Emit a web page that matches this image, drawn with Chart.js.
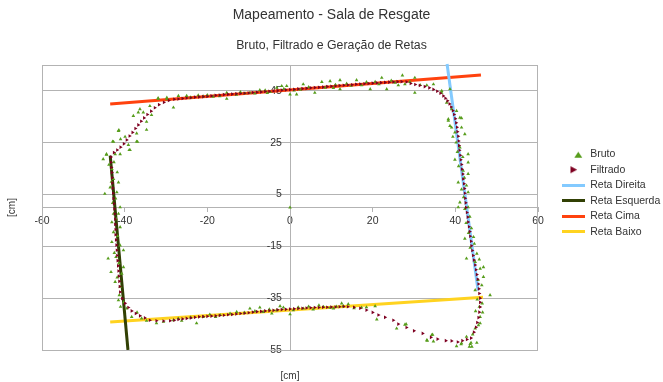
<!DOCTYPE html>
<html><head><meta charset="utf-8">
<script src="https://cdn.jsdelivr.net/npm/chart.js@4/dist/chart.umd.min.js"></script>
<style>html,body{margin:0;padding:0;background:#fff}canvas{display:block}</style>
</head><body>
<canvas id="c" width="663" height="382"></canvas>
<script>
const chartTitle = 'Mapeamento - Sala de Resgate';
const chartSubtitle = 'Bruto, Filtrado e Geração de Retas';
const axisTitleX = '[cm]';
const axisTitleY = '[cm]';
const seriesNames = ['Bruto', 'Filtrado', 'Reta Direita', 'Reta Esquerda', 'Reta Cima', 'Reta Baixo'];
const xTicks = [-60, -40, -20, 0, 20, 40, 60];
const yTicks = [-55, -35, -15, 5, 25, 45];

const bruto = [
[0,0],
[-29.8,41.8],[-28.2,38.6],[-27,43.1],[-25,43.1],[-24,42.5],[-22.2,43.3],[-21,42.9],[-20,43.4],[-18.6,42.8],[-17,43.0],[-15.3,42],[-15.3,44.3],[-13,43.6],[-12,44.6],[-10.9,44.1],[-9.7,44.3],[-8.5,44.0],[-7.3,45.3],[-6,45.2],[-5.5,44.2],[-4.8,44.6],[-3.2,46.3],[-2,46.9],[-1.5,45.8],[-0.8,46.9],[0,43.7],[1,45.2],[1.6,43.7],[2.5,45.5],[3.2,47.6],[4.5,46.5],[6,44.3],[7.7,48.5],[8.5,46.3],[9.7,48.8],[10.5,46.2],[11,47.4],[12.1,49.2],[12.1,45.7],[13.7,47.8],[14.8,47.0],[16.1,49.2],[17.3,47.2],[18.5,48.4],[19.4,45.7],[20.6,48.5],[21.5,47.6],[22.2,50.1],[23.4,45.7],[24.5,49.0],[25.4,48.2],[26.2,47.2],[27.2,51],[27.8,47.6],[29,48.5],[30.2,50.1],[30.2,44.3],[31.5,47.3],[33.1,47.2],[34.7,47.6],
[36.7,45],[36.7,44.3],[38.7,45.7],[37.9,40.5],[39.1,38],[40.3,37.3],[41.1,34.7],[41.5,34.5],[38.3,34.1],[38.3,33.5],[38.7,31.5],[39.1,30.9],[41.5,30.9],[42.3,28.3],[39.9,29],[39.4,27.3],[40.2,25.1],[41.1,23.2],[40.5,21.5],[43.1,20.6],[41.8,19.5],[39.9,18.5],[43.1,17.4],[40.8,16],[41.9,14.2],[43.1,13],[42.2,11.5],[40.7,9.7],[42.7,8.5],[41.5,7],[43.1,5.9],[42,4],[41.1,2],[42.3,-0.5],[43.1,0.1],[40.7,0.1],
[43.5,-3.5],[42.6,-6],[43.9,-8],[43.2,-9.8],[44.4,-11.4],[42.3,-12],[44.6,-14],[43.6,-15.5],[45.2,-17.8],[42.7,-19.7],[45.8,-20],[44.8,-21],[46.8,-23],[46,-23.6],[46.8,-26.8],[45.5,-28],[46.4,-30],[44.8,-31.9],[48.4,-33.8],[45.3,-35.5],[46.5,-37],[45.8,-38.3],[44.9,-40],[46.6,-40.5],[46,-42.2],[46,-44.7],[45.6,-45.4],[44.8,-46.7],[44.2,-49],[42.7,-49.9],[45.2,-52.2],[43.8,-52.2],[43.6,-52.7],[43.4,-53.7],[44,-53.7],[41.5,-52.4],[41.4,-52.8],[40.3,-53.5],
[34.5,-49.1],[34.3,-49.2],[33.2,-51.4],[33.1,-51.2],[34.7,-51.7],[28.1,-45],[27.8,-45.2],[25.8,-46.7],[21,-43.2],[20.6,-38.1],[18.5,-38.5],[17.3,-38.6],[15.5,-38.9],[14.1,-37.3],[12.9,-38.1],[12.5,-37],[11.2,-38.2],[10.5,-39],[9.7,-38.7],[8.1,-38.3],[7,-37.8],[5.6,-39.3],[4.5,-38.2],[3.2,-39],[2,-38.5],[0.8,-39.6],[0,-41.2],[-1.6,-38.6],
[-2.4,-38.1],[-3.2,-39.6],[-4.4,-40.9],[-5,-39.3],[-6.5,-40.3],[-7.3,-38.6],[-8.5,-40.0],[-9.7,-39],[-11,-40.6],[-12.9,-40.3],[-14.5,-40.9],[-16.9,-41.5],[-18,-42.2],[-19.4,-41.3],[-21,-42.2],[-22.6,-44.7],[-24,-42.4],[-26.2,-43.7],[-27,-42.9],[-28.2,-43.5],[-30.6,-44.1],[-32.3,-44.7],[-34.7,-43.7],[-35.9,-42.8],[-37,-40.5],[-38.3,-42.2],[-39.5,-39],[-41,-38.3],[-40.2,-36.5],[-41.5,-35.8],[-41.3,-33.8],
[-41.1,-30.6],[-42.3,-28.7],[-41.8,-27],[-40.7,-25.5],[-43.3,-24.9],[-40.3,-23],[-41.4,-21.5],[-44,-19.7],[-42.1,-19.1],[-42.5,-17.5],[-40.3,-16.5],[-41.1,-14.6],[-43.1,-13.3],[-41.7,-11],[-42.7,-9.5],[-41.1,-7.6],[-43.1,-5.7],[-42.0,-4.5],[-41.5,-2.4],[-42.7,-2.4],[-41.1,0.1],[-42.9,1.8],[-42.2,3.5],[-44.8,5.3],[-41.9,5.9],[-43.5,7.8],[-41.5,9.7],[-43.2,10],[-42.7,11],[-41.8,13.6],[-43.1,14.9],[-43.8,16.5],[-42.6,17.5],
[-45.2,18.7],[-44.4,20.6],[-44.4,20.4],[-42.3,20.6],[-41.1,20.6],[-38.9,22.2],[-38.7,22.2],[-39.1,24.2],[-36.9,25.4],[-37.1,25.5],[-42.7,25.4],[-42.9,25.5],[-41,26.4],[-39.9,27.3],[-37.1,28.6],[-41.5,29.6],[-41.4,29.9],[-34.7,30],[-34.7,33.1],[-33.5,35.7],[-37.9,35.4],[-36.7,36.7],[-35.5,36.7],[-36.3,38],[-33.9,39.2],[-31.9,42],[-31.9,42.2],[-29.8,42.4]
];

const filtrado = [
[-28,41.8],[-27,41.9],[-26,42.1],[-25,42.3],[-24,42.4],[-23,42.6],[-22,42.7],[-21,42.8],[-20,42.9],[-19,43.1],[-18,43.3],[-17,43.4],[-16,43.6],[-15,43.7],[-14,43.8],[-13,43.9],[-12,44.0],[-11,44.1],[-10,44.2],[-9,44.4],[-8,44.5],[-7,44.6],[-6,44.8],[-5,44.9],[-4,45.0],[-3,45.1],[-2,45.3],[-1,45.4],[0,45.5],[1,45.6],[2,45.8],[3,45.9],[4,46.0],[5,46.2],[6,46.3],[7,46.4],[8,46.5],[9,46.7],[10,46.8],[11,46.9],[12,47.1],[13,47.2],[14,47.3],[15,47.4],[16,47.6],[17,47.7],[18,47.8],[19,47.9],[20,48.0],[21,48.1],[22,48.2],[23,48.3],[24,48.4],[25,48.5],[26,48.6],[27,48.6],
[28.2,48.5],[29.2,47.9],[30.3,47.5],[31.4,47.1],[32.6,46.7],[33.7,46.2],[34.7,45.6],[35.6,44.9],[36.4,44.1],[37.1,43.1],[37.6,42.2],[38.1,41.2],[38.6,40.0],[39.0,38.8],[39.4,37.4],[39.7,35.9],[40.0,34.3],[40.2,32.7],[40.4,31.0],[40.5,29.3],[40.7,27.5],[40.8,25.7],[40.9,23.9],[41.0,22.1],[41.2,20.2],[41.3,18.4],[41.5,16.6],[41.6,14.8],[41.8,12.9],[41.9,11.0],[42.1,9.2],[42.2,7.3],[42.3,5.5],[42.4,3.6],[42.5,1.8],[42.6,0],[42.8,-1.9],[43.0,-3.7],[43.1,-5.6],[43.3,-7.4],[43.5,-9.3],[43.6,-11.1],[43.8,-13.0],[43.9,-14.8],[44.1,-16.6],[44.3,-18.5],[44.5,-20.3],[44.8,-22.2],[45.0,-24.0],[45.2,-25.9],[45.4,-27.7],[45.6,-29.5],[45.7,-31.4],[45.8,-33.2],[46.0,-35.0],[46.0,-36.6],[46.0,-38.4],[45.8,-40.4],[45.6,-42.5],[45.3,-44.4],[45.0,-46.2],[44.5,-48.1],[43.8,-50.4],[42.8,-50.9],[41.7,-51.4],[40.6,-51.9],[39.1,-51.5],[37.7,-51.4],[35.7,-50.8],[34.1,-50.1],[32.1,-48.6],[30.0,-47.6],[28.2,-46.3],[26.2,-45.0],[25.0,-43.5],[23.0,-42.4],[21.4,-41.5],[20.0,-40.5],[18.5,-39.6],[17.0,-38.9],[15.5,-38.5],[14.0,-38.3],
[13,-38.2],[12,-38.3],[11,-38.4],[10,-38.4],[9,-38.5],[8,-38.5],[7,-38.6],[6,-38.6],[5,-38.7],[4,-38.8],[3,-38.9],[2,-39.0],[1,-39.1],[0,-39.2],[-1,-39.3],[-2,-39.4],[-3,-39.5],[-4,-39.7],[-5,-39.8],[-6,-39.9],[-7,-40.1],[-8,-40.2],[-9,-40.4],[-10,-40.6],[-11,-40.8],[-12,-40.9],[-13,-41.1],[-14,-41.3],[-15,-41.4],[-16,-41.6],[-17,-41.7],[-18,-41.8],[-19,-41.9],[-20,-42.0],[-21,-42.1],[-22,-42.2],[-23,-42.4],[-24,-42.6],[-25,-42.8],[-26,-43.0],[-27,-43.2],[-28,-43.5],[-29,-43.7],[-30.6,-43.8],[-32.3,-43.7],[-33.9,-43.5],[-35.1,-42.6],[-36.3,-41.8],[-37.3,-40.9],[-38.3,-39.9],[-39.1,-38.6],[-39.9,-37.0],[-40.6,-35.1],[-41.1,-32.6],
[-41.2,-30.5],[-41.3,-28.5],[-41.4,-26.5],[-41.5,-24.5],[-41.6,-22.5],[-41.7,-20.5],[-41.8,-18.5],[-41.9,-16.5],[-42.0,-14.5],[-42.1,-12.5],[-42.2,-10.5],[-42.2,-8.5],[-42.3,-6.5],[-42.3,-4.5],[-42.4,-2.5],[-42.5,-0.5],[-42.6,1.5],[-42.7,3.5],[-42.8,5.5],[-42.9,7.5],[-43.0,9.5],[-43.0,11.5],[-43.1,13.5],[-43.2,15.5],[-43.3,17.5],[-43.3,19.5],[-42.6,21.2],[-41.8,22.2],[-41.0,23.3],[-40.2,24.6],[-39.5,26.1],[-38.8,27.6],[-38.1,29.0],[-37.4,30.5],[-36.7,31.9],[-36.0,33.3],[-35.3,34.6],[-34.5,35.9],[-33.6,37.2],[-32.7,38.5],[-31.7,39.7],[-30.5,40.6],[-29.3,41.3]
];

const retaDireita = [[38.0, 55.4], [45.5, -32.0]];
const retaEsquerda = [[-43.5, 20.0], [-39.2, -55.0]];
const retaCima = [[-43.5, 40.0], [46.2, 51.2]];
const retaBaixo = [[-43.5, -44.2], [46.7, -34.6]];

const COLORS = ['#579d1c', '#7e0021', '#83caff', '#314004', '#ff420e', '#ffd320'];
const FONT = "'Liberation Sans', Arial, sans-serif";
const TEXT = '#333333';
const GRID = '#b3b3b3';

const toXY = a => a.map(p => ({x: p[0], y: p[1]}));

function makeIcon(kind, color) {
  const c = document.createElement('canvas');
  c.width = 23; c.height = kind === 'line' ? 3 : 9;
  const g = c.getContext('2d');
  g.fillStyle = color;
  if (kind === 'line') {
    g.fillRect(0, 0, 23, 3);
  } else if (kind === 'tri') {
    g.beginPath(); g.moveTo(16.3, 2); g.lineTo(20.3, 8); g.lineTo(12.3, 8); g.closePath(); g.fill();
  } else {
    g.beginPath(); g.moveTo(8.5, 1); g.lineTo(15.2, 4.5); g.lineTo(8.5, 8); g.closePath(); g.fill();
  }
  return c;
}
const icons = [
  makeIcon('tri', COLORS[0]), makeIcon('rtri', COLORS[1]),
  makeIcon('line', COLORS[2]), makeIcon('line', COLORS[3]),
  makeIcon('line', COLORS[4]), makeIcon('line', COLORS[5])
];

const frameAndLegend = {
  id: 'frameAndLegend',
  beforeLayout(chart) {
    const lg = chart.legend;
    if (lg && !lg._fixedWidth) {
      const orig = lg.fit;
      lg.fit = function () { orig.call(this); this.width = 125; };
      lg._fixedWidth = true;
    }
  },
  afterLayout(chart) {
    const lg = chart.legend;
    if (lg) { lg.left += 19; lg.right += 19; lg.top += 2; lg.bottom += 2; }
  },
  beforeDatasetsDraw(chart) {
    const {ctx, chartArea: a} = chart;
    ctx.save();
    ctx.strokeStyle = GRID; ctx.lineWidth = 1;
    ctx.strokeRect(Math.round(a.left) + 0.5, Math.round(a.top) + 0.5,
      Math.round(a.right) - Math.round(a.left) - 1, Math.round(a.bottom) - Math.round(a.top));
    ctx.restore();
  }
};

const lineDs = (i, pts, extra) => Object.assign({
  label: seriesNames[i], data: toXY(pts), showLine: true,
  borderColor: COLORS[i], backgroundColor: COLORS[i], borderWidth: 3,
  pointRadius: 0, order: 2
}, extra || {});

new Chart(document.getElementById('c'), {
  type: 'scatter',
  data: {
    datasets: [
      {label: seriesNames[0], data: toXY(bruto), pointStyle: 'triangle', pointRadius: 2.1,
       pointBorderWidth: 0, backgroundColor: COLORS[0], borderColor: COLORS[0], order: 1},
      {label: seriesNames[1], data: toXY(filtrado), pointStyle: 'triangle', pointRotation: 90, pointRadius: 2.1,
       pointBorderWidth: 0, backgroundColor: COLORS[1], borderColor: COLORS[1], order: 0},
      lineDs(2, retaDireita, {clip: false}),
      lineDs(3, retaEsquerda),
      lineDs(4, retaCima),
      lineDs(5, retaBaixo)
    ]
  },
  options: {
    responsive: false,
    devicePixelRatio: 1,
    animation: false,
    events: [],
    layout: {padding: 0},
    scales: {
      x: {
        type: 'linear', position: {y: 0}, min: -60, max: 60,
        afterBuildTicks: s => { s.ticks = xTicks.map(v => ({value: v})); },
        grid: {display: true, drawOnChartArea: false, drawTicks: true, tickLength: 4, color: GRID},
        border: {display: true, color: GRID},
        ticks: {font: {family: FONT, size: 10.5}, color: TEXT, padding: 3, maxRotation: 0, autoSkip: false}
      },
      y: {
        type: 'linear', position: {x: 0}, min: -55, max: 55,
        afterBuildTicks: s => { s.ticks = yTicks.map(v => ({value: v})); },
        grid: {color: GRID, drawTicks: false, tickLength: 0},
        border: {display: true, color: GRID},
        ticks: {font: {family: FONT, size: 10.5}, color: TEXT, autoSkip: false,
                callback: v => String(v) + '\u2002 '}
      },
      xT: {
        axis: 'x', type: 'linear', position: 'bottom',
        ticks: {display: false}, grid: {display: false}, border: {display: false},
        title: {display: true, text: axisTitleX, font: {family: FONT, size: 10}, color: TEXT, padding: {top: 6, bottom: 0}},
        afterFit: s => { s.height = 32; }
      },
      yT: {
        axis: 'y', type: 'linear', position: 'left',
        ticks: {display: false}, grid: {display: false}, border: {display: false},
        title: {display: true, text: axisTitleY, font: {family: FONT, size: 10}, color: TEXT, padding: {top: 6, bottom: 0}},
        afterFit: s => { s.width = 42; }
      }
    },
    plugins: {
      title: {display: true, text: chartTitle, color: TEXT,
              font: {family: FONT, size: 14, weight: 'normal'}, padding: {top: 7, bottom: 0}},
      subtitle: {display: true, text: chartSubtitle, color: TEXT,
                 font: {family: FONT, size: 12.3, weight: 'normal'}, padding: {top: 14.5, bottom: 12}},
      legend: {
        position: 'right', align: 'center',
        labels: {
          usePointStyle: true, pointStyleWidth: 23, padding: 5, color: TEXT,
          font: {family: FONT, size: 10.5},
          sort: (a, b) => a.datasetIndex - b.datasetIndex,
          generateLabels(chart) {
            const items = Chart.defaults.plugins.legend.labels.generateLabels(chart);
            items.forEach(it => { it.pointStyle = icons[it.datasetIndex]; it.rotation = 0; });
            return items;
          }
        }
      },
      tooltip: {enabled: false}
    }
  },
  plugins: [frameAndLegend]
});
</script>
</body></html>
